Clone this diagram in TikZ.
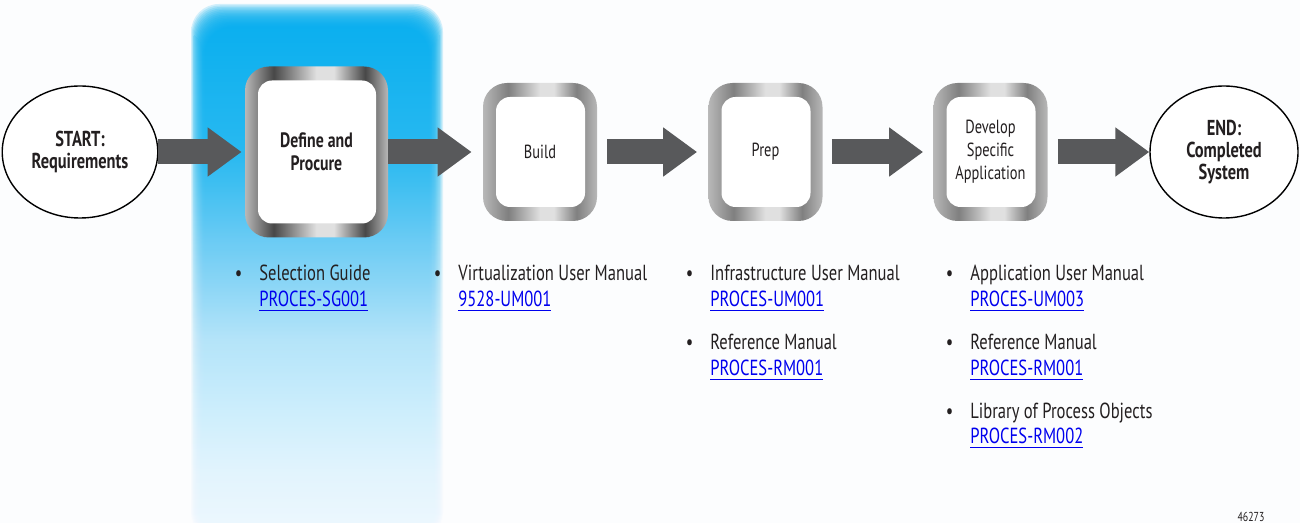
\documentclass[tikz,border=0pt]{standalone}
\usepackage{fontspec}
\setmainfont{PT Sans}[FakeStretch=0.76]
\usepackage{tikz}
\usetikzlibrary{arrows.meta, positioning, calc, shapes.geometric}
\definecolor{arrowGray}{HTML}{58595B}
\definecolor{linkBlue}{HTML}{0000EE}
\definecolor{textBlack}{HTML}{231F20}
\definecolor{paperWhite}{HTML}{FCFDFE}
\definecolor{hlA}{HTML}{EEF8FE}
\definecolor{hlB}{HTML}{E2F4FD}
\definecolor{hlC}{HTML}{CDEEFC}
\definecolor{hlD}{HTML}{B3E4F9}
\definecolor{hlE}{HTML}{7BD2F5}
\definecolor{hlF}{HTML}{20B8F0}
\definecolor{hlG}{HTML}{00AEEF}
\definecolor{mtLight}{gray}{0.88}
\definecolor{mtMid}{gray}{0.72}
\definecolor{mtDark}{gray}{0.50}
\definecolor{mtDeep}{gray}{0.28}
\pgfdeclareverticalshading{hilite}{100bp}{color(0bp)=(hlA); color(25bp)=(hlA); color(31bp)=(hlB); color(37bp)=(hlC); color(44bp)=(hlD); color(51bp)=(hlE); color(62bp)=(hlF); color(75bp)=(hlG); color(100bp)=(hlG)}
\pgfdeclarehorizontalshading{metalLight}{100bp}{color(0bp)=(mtMid); color(25bp)=(mtMid); color(36bp)=(mtDark); color(50bp)=(mtLight); color(56bp)=(mtLight); color(66bp)=(mtDark); color(75bp)=(mtMid); color(100bp)=(mtMid)}
\pgfdeclarehorizontalshading{metalDark}{100bp}{color(0bp)=(mtMid); color(25bp)=(mtMid); color(35bp)=(mtDeep); color(50bp)=(mtLight); color(56bp)=(mtLight); color(67bp)=(mtDeep); color(75bp)=(mtMid); color(100bp)=(mtMid)}
\newcommand{\doclink}[1]{\textcolor{linkBlue}{\underline{#1}}}
\newcommand{\docitem}[2]{\llap{\textbullet\hspace{8.5pt}}\begin{tabular}[t]{@{}l@{}}#1\\\doclink{#2}\end{tabular}}

\begin{document}
\begin{tikzpicture}[x=0.5pt, y=-0.5pt,
    endpoint/.style={ellipse, draw=black, line width=0.7pt, fill=white, align=center,
        font=\fontsize{10.8}{11.2}\selectfont\bfseries, text=textBlack},
    stepbox/.style={rectangle, rounded corners=12pt, shade, shading=#1, align=center,
        font=\fontsize{9.5}{11.5}\selectfont, text=textBlack,
        minimum width=57pt, minimum height=69pt,
        path picture={\fill[white, rounded corners=7pt]
            ($(path picture bounding box.south west)+(6.5pt,7pt)$) rectangle
            ($(path picture bounding box.north east)+(-6pt,-7pt)$);}},
    flow/.style={arrowGray, line width=12.5pt, -{Triangle[length=17pt, width=23.5pt]}},
    docnode/.style={anchor=base west, inner sep=0pt, text=textBlack,
        font=\fontsize{10.9}{13}\selectfont}]
    \useasboundingbox[fill=paperWhite] (0,0) rectangle (1300,523);

    % Highlight (soft edges)
    \foreach \g in {0,...,15}
        \shade[shading=hilite, opacity=0.17, rounded corners=14pt]
            (191+0.9*\g,4+1.5*\g) rectangle (443-0.9*\g,540-0.5*\g);

    % Steps
    \node[endpoint, minimum width=72pt, minimum height=66pt] (start) at (80,152) {START:\\Requirements};
    \node[stepbox=metalDark, minimum width=71.5pt, minimum height=85.5pt,
        font=\fontsize{10.4}{11.5}\selectfont\bfseries] (define) at (316.5,152) {Define and\\Procure};
    \node[stepbox=metalLight] (build) at (540,152) {Build};
    \node[stepbox=metalLight] (prep) at (765.5,152) {Prep};
    \node[stepbox=metalLight] (develop) at (990.5,152) {Develop\\Specific\\Application};
    \node[endpoint, minimum width=74pt, minimum height=66pt] (finish) at (1224,152) {END:\\Completed\\System};

    % Arrows
    \draw[flow, shorten >=1.5pt] (start) -- (define);
    \draw[flow, shorten >=5.5pt] (define) -- (build);
    \draw[flow, shorten <=5pt, shorten >=5.5pt] (build) -- (prep);
    \draw[flow, shorten <=4.5pt, shorten >=5pt] (prep) -- (develop);
    \draw[flow, shorten <=5pt] (develop) -- (finish);

    % Documents
    \node[docnode] (sg) at (259,281) {\docitem{Selection Guide}{PROCES-SG001}};
    \node[docnode] (vum) at (458,281) {\docitem{Virtualization User Manual}{9528-UM001}};
    \node[docnode] (ium) at (710,281) {\docitem{Infrastructure User Manual}{PROCES-UM001}};
    \node[docnode] (irm) at (710,350) {\docitem{Reference Manual}{PROCES-RM001}};
    \node[docnode] (aum) at (970,281) {\docitem{Application User Manual}{PROCES-UM003}};
    \node[docnode] (arm) at (970,350) {\docitem{Reference Manual}{PROCES-RM001}};
    \node[docnode] (lib) at (970,418) {\docitem{Library of Process Objects}{PROCES-RM002}};

    \node[font=\fontsize{6.5}{7}\selectfont, text=textBlack] (fignum) at (1251,517) {46273};
\end{tikzpicture}
\end{document}
